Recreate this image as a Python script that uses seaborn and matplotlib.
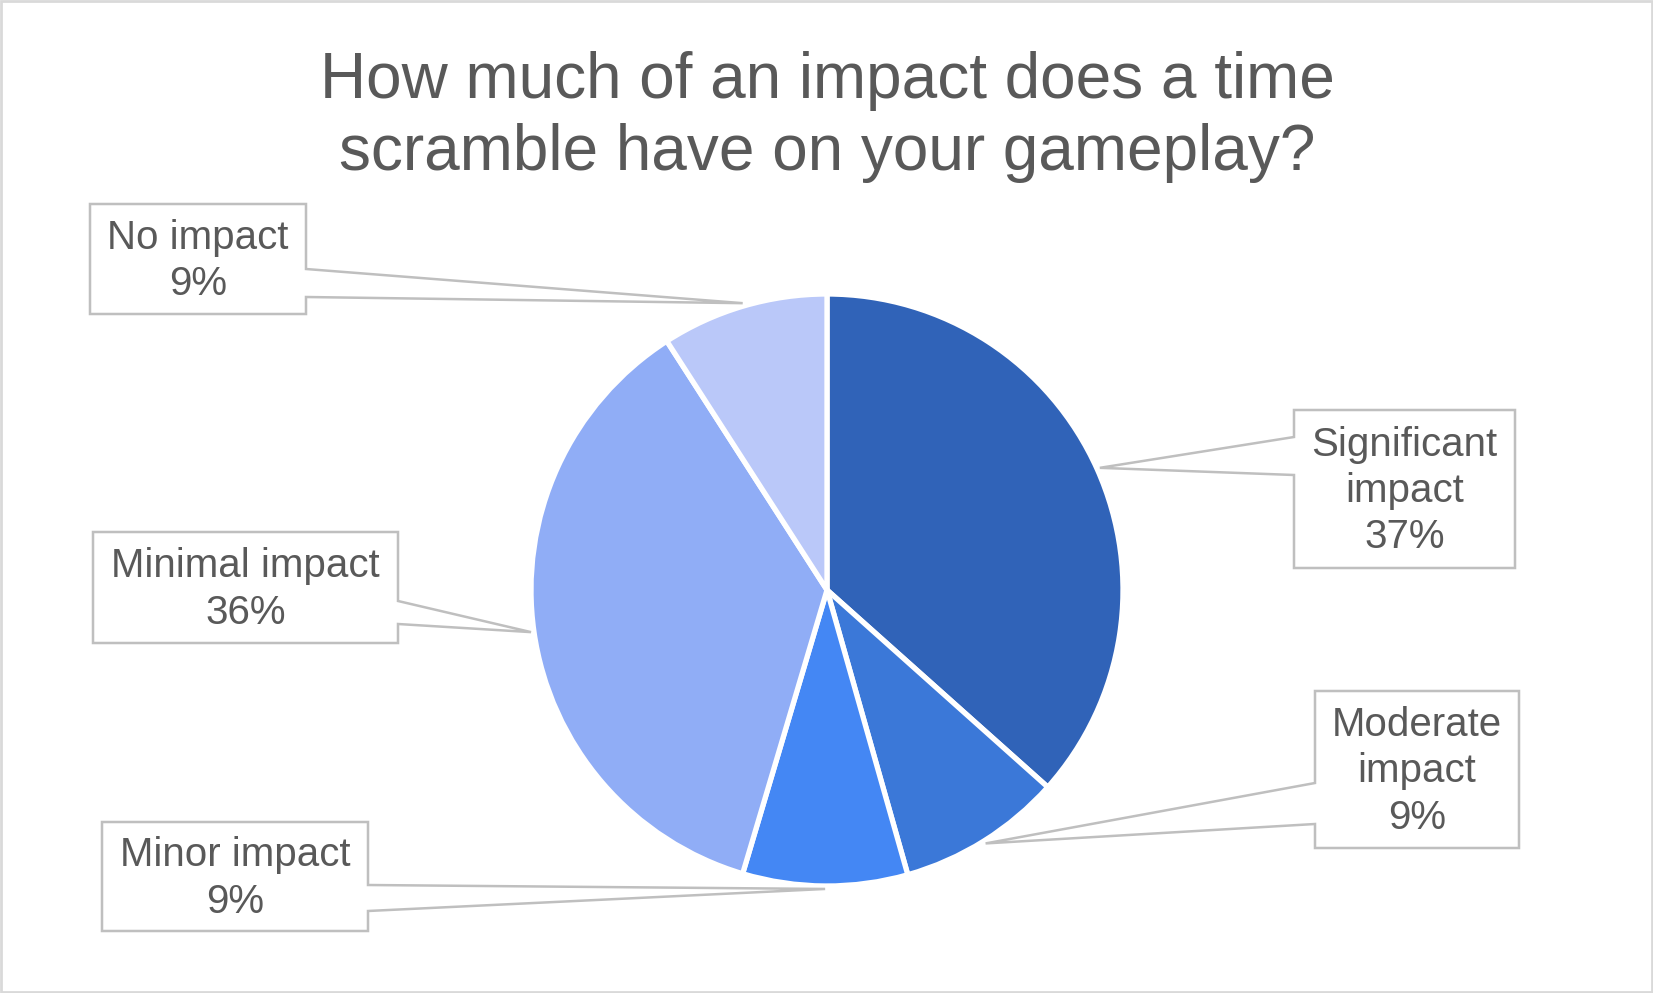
import numpy as np
import matplotlib
matplotlib.use("Agg")
import matplotlib.pyplot as plt
from matplotlib.patches import Polygon, Rectangle
import seaborn as sns

categories = ["Significant impact", "Moderate impact", "Minor impact", "Minimal impact", "No impact"]
label_lines = ["Significant\nimpact", "Moderate\nimpact", "Minor impact", "Minimal impact", "No impact"]
values = [36.6, 9.0, 9.0, 36.3, 9.1]
colors = sns.color_palette(["#3063B8", "#3B78D8", "#4487F4", "#90ADF6", "#BAC8F9"])

sns.set_theme(style="white")
plt.rcParams["font.family"] = ["Liberation Sans", "DejaVu Sans"]

W, H = 1653, 993
fig = plt.figure(figsize=(W / 100, H / 100), dpi=100)
fig.patch.set_facecolor("white")

# pie axes, centre (827, 590) px, radius 296 px
cx, cy, r = 827, 590, 296
ax = fig.add_axes([(cx - r) / W, (H - cy - r) / H, 2 * r / W, 2 * r / H])
wedges, _ = ax.pie(values, colors=colors, startangle=90, counterclock=False,
                   radius=1, wedgeprops=dict(edgecolor="white", linewidth=3.8))
ax.set_xlim(-1, 1)
ax.set_ylim(-1, 1)
ax.set_aspect("equal")
ax.axis("off")

# overlay in pixel coords for callouts
ov = fig.add_axes([0, 0, 1, 1], zorder=5)
ov.set_xlim(0, W)
ov.set_ylim(H, 0)
ov.axis("off")
ov.patch.set_alpha(0)

# callout boxes: (x0, x1, y0, y1, side, wedge y a, wedge y b)
boxes = [
    (1294, 1515, 410, 568, "left", 437, 475),
    (1315, 1519, 691, 848, "left", 783, 824),
    (102, 368, 822, 931, "right", 885, 911),
    (93, 398, 532, 643, "right", 601, 624),
    (90, 306, 204, 314, "right", 269, 297),
]

total = sum(values)
gray = "#BFBFBF"
txt = "#595959"
for w, lab, v, b in zip(wedges, label_lines, values, boxes):
    mid = np.deg2rad((w.theta1 + w.theta2) / 2)
    tx = cx + r * 1.01 * np.cos(mid)
    ty = cy - r * 1.01 * np.sin(mid)
    x0, x1, y0, y1, side, ya, yb = b
    if side == "right":
        pts = [(x0, y0), (x1, y0), (x1, ya), (tx, ty), (x1, yb), (x1, y1), (x0, y1)]
    else:
        pts = [(x0, y0), (x1, y0), (x1, y1), (x0, y1), (x0, yb), (tx, ty), (x0, ya)]
    ov.add_patch(Polygon(pts, closed=True, facecolor="white", edgecolor=gray, linewidth=1.8))
    pct = f"{round(100 * v / total)}%"
    ov.text((x0 + x1) / 2, (y0 + y1) / 2 + 2, f"{lab}\n{pct}", ha="center", va="center",
            fontsize=29, color=txt, linespacing=1.28)

ov.text(827, 98, "How much of an impact does a time", ha="center", va="baseline",
        fontsize=46, color=txt)
ov.text(827, 170, "scramble have on your gameplay?", ha="center", va="baseline",
        fontsize=46, color=txt)

ov.add_patch(Rectangle((1, 1), W - 2, H - 2, fill=False, edgecolor="#D9D9D9", linewidth=2))

fig.savefig("out.png", dpi=100)
